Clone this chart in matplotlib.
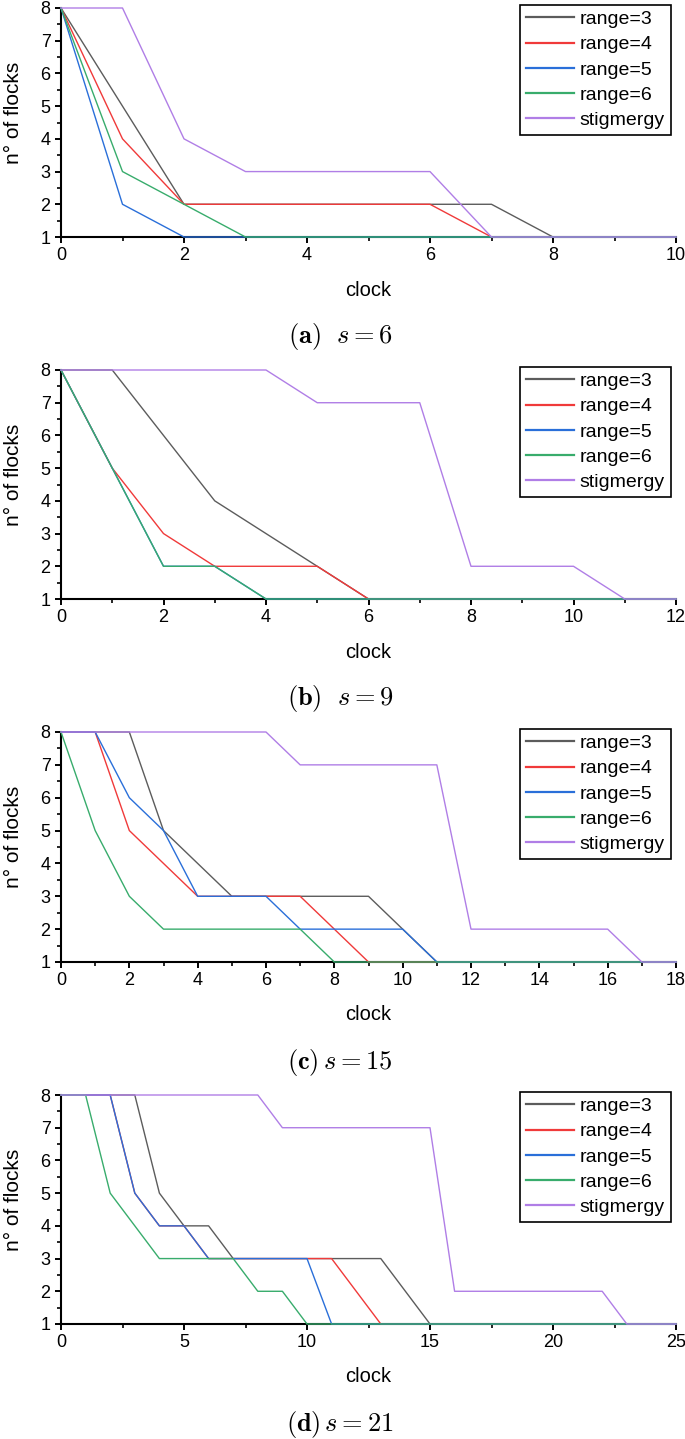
import matplotlib
matplotlib.use('Agg')
import matplotlib.pyplot as plt
from matplotlib.ticker import MultipleLocator

plt.rcParams['font.family'] = ['Liberation Sans', 'DejaVu Sans']
plt.rcParams['mathtext.fontset'] = 'cm'

# ---------------- data ----------------
series_labels = ['range=3', 'range=4', 'range=5', 'range=6', 'stigmergy']
series_colors = ['#5c5c5c', '#f03a3a', '#2a6fd9', '#38ac6c', '#b07ee6']

clock_a = [0, 1, 2, 3, 4, 5, 6, 7, 8, 9, 10]
a_range3 = [8, 5, 2, 2, 2, 2, 2, 2, 1, 1, 1]
a_range4 = [8, 4, 2, 2, 2, 2, 2, 1, 1, 1, 1]
a_range5 = [8, 2, 1, 1, 1, 1, 1, 1, 1, 1, 1]
a_range6 = [8, 3, 2, 1, 1, 1, 1, 1, 1, 1, 1]
a_stig = [8, 8, 4, 3, 3, 3, 3, 1, 1, 1, 1]

clock_b = [0, 1, 2, 3, 4, 5, 6, 7, 8, 9, 10, 11, 12]
b_range3 = [8, 8, 6, 4, 3, 2, 1, 1, 1, 1, 1, 1, 1]
b_range4 = [8, 5, 3, 2, 2, 2, 1, 1, 1, 1, 1, 1, 1]
b_range5 = [8, 5, 2, 2, 1, 1, 1, 1, 1, 1, 1, 1, 1]
b_range6 = [8, 5, 2, 2, 1, 1, 1, 1, 1, 1, 1, 1, 1]
b_stig = [8, 8, 8, 8, 8, 7, 7, 7, 2, 2, 2, 1, 1]

clock_c = [0, 1, 2, 3, 4, 5, 6, 7, 8, 9, 10, 11, 12, 13, 14, 15, 16, 17, 18]
c_range3 = [8, 8, 8, 5, 4, 3, 3, 3, 3, 3, 2, 1, 1, 1, 1, 1, 1, 1, 1]
c_range4 = [8, 8, 5, 4, 3, 3, 3, 3, 2, 1, 1, 1, 1, 1, 1, 1, 1, 1, 1]
c_range5 = [8, 8, 6, 5, 3, 3, 3, 2, 2, 2, 2, 1, 1, 1, 1, 1, 1, 1, 1]
c_range6 = [8, 5, 3, 2, 2, 2, 2, 2, 1, 1, 1, 1, 1, 1, 1, 1, 1, 1, 1]
c_stig = [8, 8, 8, 8, 8, 8, 8, 7, 7, 7, 7, 7, 2, 2, 2, 2, 2, 1, 1]

clock_d = [0, 1, 2, 3, 4, 5, 6, 7, 8, 9, 10, 11, 12, 13, 14, 15, 16, 17, 18,
           19, 20, 21, 22, 23, 24, 25]
d_range3 = [8, 8, 8, 8, 5, 4, 4, 3, 3, 3, 3, 3, 3, 3, 2, 1, 1, 1, 1, 1, 1, 1, 1, 1, 1, 1]
d_range4 = [8, 8, 8, 5, 4, 4, 3, 3, 3, 3, 3, 3, 2, 1, 1, 1, 1, 1, 1, 1, 1, 1, 1, 1, 1, 1]
d_range5 = [8, 8, 8, 5, 4, 4, 3, 3, 3, 3, 3, 1, 1, 1, 1, 1, 1, 1, 1, 1, 1, 1, 1, 1, 1, 1]
d_range6 = [8, 8, 5, 4, 3, 3, 3, 3, 2, 2, 1, 1, 1, 1, 1, 1, 1, 1, 1, 1, 1, 1, 1, 1, 1, 1]
d_stig = [8, 8, 8, 8, 8, 8, 8, 8, 8, 7, 7, 7, 7, 7, 7, 7, 2, 2, 2, 2, 2, 2, 2, 1, 1, 1]

captions = [r'$\mathbf{(a)}\ \ s=6$', r'$\mathbf{(b)}\ \ s=9$',
            r'$\mathbf{(c)}\,s=15$', r'$\mathbf{(d)}\,s=21$']
x_limits = [10, 12, 18, 25]
x_major = [2, 2, 2, 5]
x_minor = [1, 1, 1, 2.5]

panels = [
    (clock_a, [a_range3, a_range4, a_range5, a_range6, a_stig]),
    (clock_b, [b_range3, b_range4, b_range5, b_range6, b_stig]),
    (clock_c, [c_range3, c_range4, c_range5, c_range6, c_stig]),
    (clock_d, [d_range3, d_range4, d_range5, d_range6, d_stig]),
]

# ---------------- layout (pixels) ----------------
W, H = 685, 1439
ax_left, ax_right = 61, 676
ax_tops = [8, 370, 732, 1095]
ax_bots = [237, 599, 962, 1324]

fig = plt.figure(figsize=(W / 100, H / 100), dpi=100)

for i, (clock, ys) in enumerate(panels):
    top, bot = ax_tops[i], ax_bots[i]
    ax = fig.add_axes([ax_left / W, 1 - bot / H, (ax_right - ax_left) / W, (bot - top) / H])
    for y, col, lab in zip(ys, series_colors, series_labels):
        ax.plot(clock, y, color=col, lw=1.0, label=lab, clip_on=False, zorder=3)
    ax.set_xlim(0, x_limits[i])
    ax.set_ylim(1, 8)
    ax.spines['top'].set_visible(False)
    ax.spines['right'].set_visible(False)
    for s in ('left', 'bottom'):
        ax.spines[s].set_linewidth(1.5)
    ax.xaxis.set_major_locator(MultipleLocator(x_major[i]))
    ax.xaxis.set_minor_locator(MultipleLocator(x_minor[i]))
    ax.yaxis.set_major_locator(MultipleLocator(1))
    ax.yaxis.set_minor_locator(MultipleLocator(0.5))
    ax.tick_params(which='major', direction='out', length=4, width=1.4,
                   labelsize=13, pad=3.5)
    ax.tick_params(which='minor', direction='out', length=2.6, width=1.2)

    leg = ax.legend(loc='upper right', bbox_to_anchor=(0.9914, 1.0144),
                    borderaxespad=0, frameon=True, fancybox=False,
                    edgecolor='black', framealpha=1, fontsize=14,
                    handlelength=2.45, handletextpad=0.32, borderpad=0.3,
                    labelspacing=0.39)
    leg.get_frame().set_linewidth(1.2)
    for h in leg.get_lines():
        h.set_linewidth(1.6)

    fig.text((ax_left + ax_right) / 2 / W, 1 - (bot + 53) / H, 'clock',
             ha='center', va='center', fontsize=14.5)
    fig.text(14 / W, 1 - ((top + bot) / 2 - 10) / H, 'n° of flocks',
             rotation=90, ha='center', va='center', fontsize=15)
    fig.text(340 / W, 1 - (bot + 100) / H, captions[i],
             ha='center', va='center', fontsize=19)

fig.savefig('out.png', dpi=100)
